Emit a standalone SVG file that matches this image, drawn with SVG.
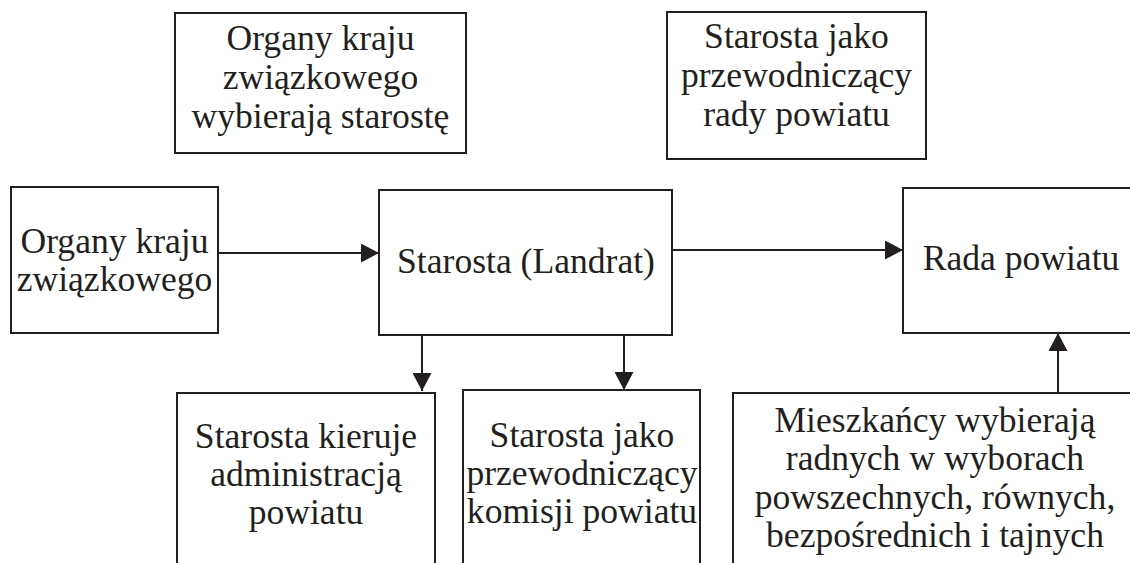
<svg xmlns="http://www.w3.org/2000/svg" width="1130" height="563" viewBox="0 0 1130 563">
  <style>
    .box { fill: #ffffff; stroke: #231f20; stroke-width: 2; }
    .lbl { font-family: "Liberation Serif", "Times New Roman", serif; font-size: 35.6px; fill: #231f20; text-anchor: middle; }
    .conn { stroke: #231f20; stroke-width: 2; fill: none; marker-end: url(#arrow); }
  </style>
  <defs>
    <marker id="arrow" markerUnits="userSpaceOnUse" markerWidth="18" markerHeight="19" refX="18" refY="9.5" orient="auto">
      <path d="M0,0 L18,9.5 L0,19 Z" fill="#231f20"/>
    </marker>
  </defs>
  <rect width="1130" height="563" fill="#ffffff"/>

  <g id="n-top-left">
    <rect class="box" x="175" y="13" width="291" height="140"/>
    <text class="lbl" x="320.5" y="50">Organy kraju</text>
    <text class="lbl" x="320.5" y="89">związkowego</text>
    <text class="lbl" x="320.5" y="128">wybierają starostę</text>
  </g>

  <g id="n-top-right">
    <rect class="box" x="667" y="12" width="259" height="147"/>
    <text class="lbl" x="796.5" y="48">Starosta jako</text>
    <text class="lbl" x="796.5" y="87">przewodniczący</text>
    <text class="lbl" x="796.5" y="126">rady powiatu</text>
  </g>

  <g id="n-organy">
    <rect class="box" x="11" y="187" width="207" height="146"/>
    <text class="lbl" x="114.5" y="253">Organy kraju</text>
    <text class="lbl" x="114.5" y="291">związkowego</text>
  </g>

  <g id="n-starosta">
    <rect class="box" x="379" y="190" width="293" height="145"/>
    <text class="lbl" x="526" y="273">Starosta (Landrat)</text>
  </g>

  <g id="n-rada">
    <rect class="box" x="903" y="188" width="236" height="145"/>
    <text class="lbl" x="1021" y="270">Rada powiatu</text>
  </g>

  <g id="n-administracja">
    <rect class="box" x="177" y="393" width="258" height="200"/>
    <text class="lbl" x="306" y="448">Starosta kieruje</text>
    <text class="lbl" x="306" y="486">administracją</text>
    <text class="lbl" x="306" y="524">powiatu</text>
  </g>

  <g id="n-komisja">
    <rect class="box" x="463" y="390" width="237" height="200"/>
    <text class="lbl" x="582" y="447">Starosta jako</text>
    <text class="lbl" x="582" y="485">przewodniczący</text>
    <text class="lbl" x="582" y="523">komisji powiatu</text>
  </g>

  <g id="n-mieszkancy">
    <rect class="box" x="733" y="393" width="404" height="200"/>
    <text class="lbl" x="935" y="432">Mieszkańcy wybierają</text>
    <text class="lbl" x="935" y="470">radnych w wyborach</text>
    <text class="lbl" x="935" y="509">powszechnych, równych,</text>
    <text class="lbl" x="935" y="547">bezpośrednich i tajnych</text>
  </g>

  <g id="connectors">
    <line class="conn" x1="218" y1="253" x2="379" y2="253"/>
    <line class="conn" x1="672" y1="250" x2="903" y2="250"/>
    <line class="conn" x1="422" y1="335" x2="422" y2="391"/>
    <line class="conn" x1="624" y1="335" x2="624" y2="390"/>
    <line class="conn" x1="1058" y1="393" x2="1058" y2="333"/>
  </g>
</svg>
